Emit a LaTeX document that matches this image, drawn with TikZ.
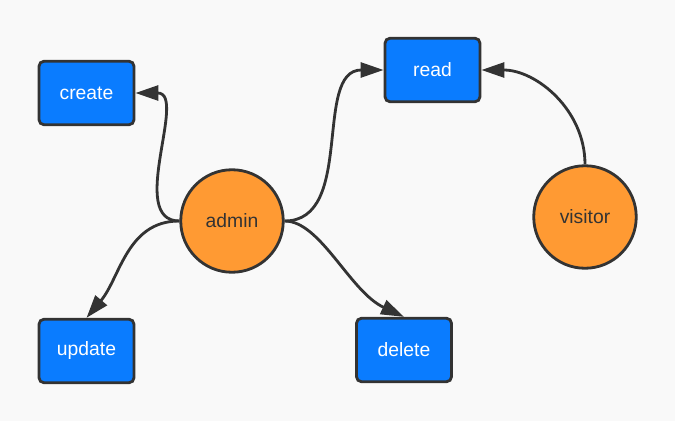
\documentclass[tikz,border=0pt]{standalone}
\usepackage{fontspec}
\setsansfont{Liberation Sans}
\usepackage{tikz}
\usetikzlibrary{arrows.meta}

\definecolor{pagebg}{HTML}{F9F9F9}
\definecolor{boxblue}{HTML}{0A7CFF}
\definecolor{actororange}{HTML}{FF9A33}
\definecolor{edgegray}{HTML}{333333}

\begin{document}
\begin{tikzpicture}[>={Triangle[length=0.46cm,width=0.30cm]},
    perm/.style={draw=edgegray, line width=1.6pt, fill=boxblue, rounded corners=0.1cm,
        minimum width=1.90cm, minimum height=1.27cm, text=white,
        font=\sffamily\fontsize{11}{13}\selectfont},
    actor/.style={draw=edgegray, line width=1.6pt, fill=actororange, circle,
        minimum size=2.05cm, inner sep=0pt, text=edgegray,
        font=\sffamily\fontsize{11}{13}\selectfont},
    link/.style={draw=edgegray, line width=1.6pt, ->}]

    \fill[pagebg] (0,0) rectangle (13.5,8.42);

    \node[perm] (create) at (1.73,6.56) {create};
    \node[perm] (read) at (8.65,7.02) {read};
    \node[perm] (update) at (1.73,1.40) {update};
    \node[perm] (delete) at (8.08,1.42) {delete};

    \node[actor] (admin) at (4.64,4.00) {admin};
    \node[actor] (visitor) at (11.70,4.08) {visitor};

    \draw[link] (admin.west) to[out=180, in=0] (create.east);
    \draw[link] (admin.east) to[out=0, in=180] (read.west);
    \draw[link] (admin.west) to[out=180, in=50] (update.north);
    \draw[link] (admin.east) to[out=0, in=155, out looseness=0.6] (delete.north);
    \draw[link] (visitor.north) to[out=90, in=0] (read.east);

\end{tikzpicture}
\end{document}
